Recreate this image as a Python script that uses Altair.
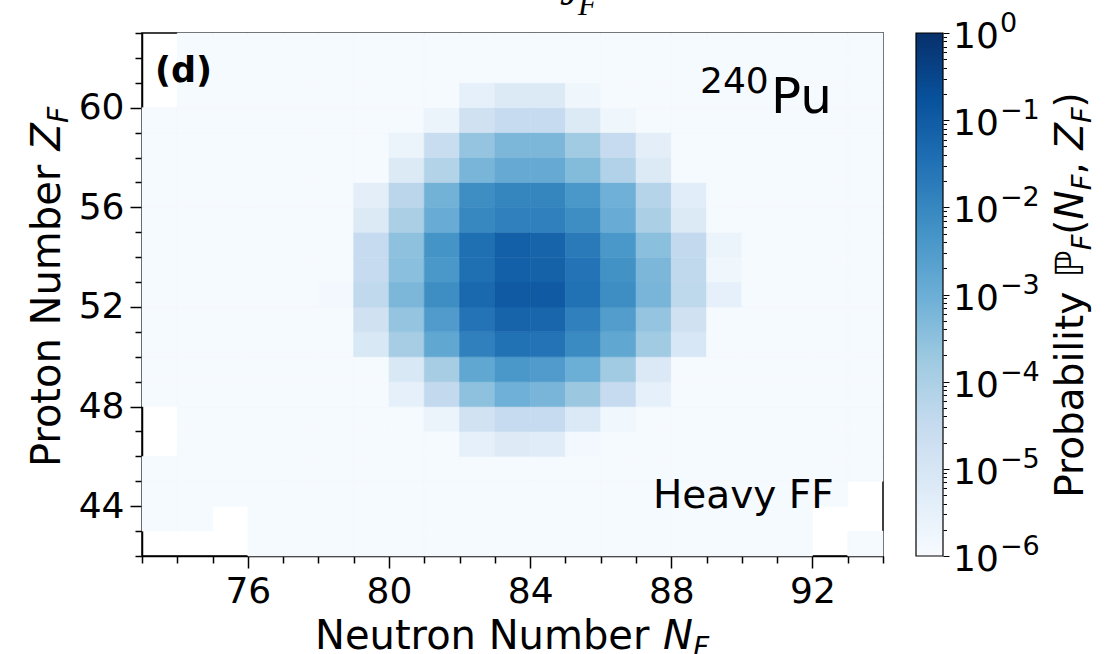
import altair as alt
import pandas as pd

# ---------------- values ----------------
x_tick_values = list(range(73, 95))          # neutron number ticks (every integer)
y_tick_values = list(range(42, 64))          # proton number ticks (every integer)
N_domain = [73, 94]
Z_domain = [42, 63]

# log10 of probability, one list per proton row (Z), starting at row_first_N
row_Z = [60, 59, 58, 57, 56, 55, 54, 53, 52, 51, 50, 49, 48, 47, 46]
row_first_N = [82, 81, 80, 80, 79, 79, 79, 79, 78, 79, 79, 80, 80, 81, 82]
row_logp = [
    [-5.5, -5.2, -5.2, -5.75],
    [-5.65, -4.8, -4.5, -4.5, -5.2, -5.75],
    [-5.65, -4.6, -3.6, -3.25, -3.25, -3.8, -4.5, -5.4],
    [-5.2, -4.15, -3.2, -2.9, -2.9, -3.35, -4.1, -5.2],
    [-5.4, -4.3, -3.1, -2.15, -1.95, -1.95, -2.4, -3.05, -4.2, -5.35],
    [-5.2, -4.0, -2.95, -2.0, -1.85, -1.85, -2.15, -2.95, -4.0, -5.2],
    [-4.5, -3.5, -2.3, -1.45, -1.1, -1.2, -1.7, -2.4, -3.45, -4.45, -5.65],
    [-4.5, -3.45, -2.4, -1.45, -1.1, -1.15, -1.55, -2.25, -3.25, -4.4, -5.75],
    [-5.85, -4.4, -3.25, -2.15, -1.3, -0.95, -0.95, -1.5, -2.15, -3.2, -4.35, -5.5],
    [-4.8, -3.6, -2.5, -1.55, -1.2, -1.25, -1.85, -2.55, -3.6, -4.8],
    [-5.1, -3.9, -2.8, -1.85, -1.5, -1.55, -2.1, -2.8, -3.8, -5.05],
    [-5.1, -3.9, -2.8, -2.4, -2.5, -3.0, -3.8, -5.15],
    [-5.5, -4.45, -3.5, -3.05, -3.2, -3.7, -4.5, -5.5],
    [-5.65, -4.85, -4.5, -4.5, -5.15, -5.8],
    [-5.5, -5.25, -5.3, -5.85],
]
background_logp = -5.95
# cells left empty (white) in the picture
missing_N = [73, 73, 73, 73, 73, 73, 74, 75, 75, 92, 92, 93, 93]
missing_Z = [62, 61, 60, 47, 46, 42, 42, 42, 43, 42, 43, 43, 44]

# colour bar
cbar_exponents = [0, -1, -2, -3, -4, -5, -6]
cbar_mantissas = [1, 2, 3, 4, 5, 6, 7, 8, 9]
blues = ["#f7fbff", "#deebf7", "#c6dbef", "#9ecae1", "#6baed6",
         "#4292c6", "#2171b5", "#08519c", "#08306b"]

# ---------------- table ----------------
cells = {}
for n in range(N_domain[0], N_domain[1]):
    for z in range(Z_domain[0], Z_domain[1]):
        cells[(n, z)] = background_logp
for z, n0, vals in zip(row_Z, row_first_N, row_logp):
    for i, v in enumerate(vals):
        cells[(n0 + i, z)] = v
for n, z in zip(missing_N, missing_Z):
    cells.pop((n, z), None)
df = pd.DataFrame([{"N": n, "Z": z, "logp": v} for (n, z), v in cells.items()])

cbar_ticks = [m * 10.0 ** e for e in range(-6, 0) for m in cbar_mantissas] + [1.0]

# ---------------- layout constants (pixels, relative to plot origin) ----------------
W_PLOT, H_PLOT = 741, 523
PAD = {"left": 142, "top": 33, "right": 1110 - 142 - 741, "bottom": 654 - 33 - 523}
FONT = "DejaVu Sans"
TICK_FS = 36
TITLE_FS = 40

heat_scale = alt.Scale(domain=[-6 + 0.75 * k for k in range(9)], range=blues,
                       interpolate="rgb", clamp=True)
major_test = "datum.value % 4 == 0"

x_axis = alt.Axis(values=x_tick_values, title=None, orient="bottom",
                  labelExpr=f"{major_test} ? datum.label : ''",
                  tickSize={"condition": {"test": major_test, "value": 12}, "value": 7},
                  tickWidth=1.5, tickColor="black", domainColor="black", domainWidth=1.5,
                  labelFont=FONT, labelFontSize=TICK_FS, labelColor="black",
                  labelPadding=6, labelFlush=False, labelOverlap=False, grid=False)
y_axis = alt.Axis(values=y_tick_values, title=None, orient="left",
                  labelExpr=f"{major_test} ? datum.label : ''",
                  tickSize={"condition": {"test": major_test, "value": 12}, "value": 7},
                  tickWidth=1.5, tickColor="black", domainColor="black", domainWidth=1.5,
                  labelFont=FONT, labelFontSize=TICK_FS, labelColor="black",
                  labelPadding=6, labelFlush=False, labelOverlap=False, grid=False)

heat = alt.Chart(df).transform_calculate(
    N2="datum.N + 1", Z2="datum.Z + 1"
).mark_rect(strokeWidth=0.6).encode(
    x=alt.X("N:Q", scale=alt.Scale(domain=N_domain, nice=False, zero=False), axis=x_axis),
    x2="N2:Q",
    y=alt.Y("Z:Q", scale=alt.Scale(domain=Z_domain, nice=False, zero=False), axis=y_axis),
    y2="Z2:Q",
    color=alt.Color("logp:Q", scale=heat_scale, legend=None),
    stroke=alt.Stroke("logp:Q", scale=heat_scale, legend=None),
)

# ---------------- colour bar ----------------
CB_X0, CB_X1 = 774, 801
cb_scale = alt.Scale(type="log", domain=[1e-6, 1.0], nice=False)
cb_major = "abs(log(datum.value)/LN10 - round(log(datum.value)/LN10)) < 0.001"
cb_axis = alt.Axis(values=cbar_ticks, orient="right", offset=CB_X1 - W_PLOT, title=None,
                   labels=False, domain=False, grid=False,
                   tickSize={"condition": {"test": cb_major, "value": 6}, "value": 3.5},
                   tickWidth=1, tickColor="black")
gradient = {"gradient": "linear", "x1": 0, "y1": 1, "x2": 0, "y2": 0,
            "stops": [{"offset": k / 8, "color": c} for k, c in enumerate(blues)]}
cbar = alt.Chart(pd.DataFrame({"lo": [1e-6], "hi": [1.0]})).mark_rect(
    color=gradient, stroke="black", strokeWidth=1.2
).encode(
    x=alt.value(CB_X0), x2=alt.value(CB_X1),
    y=alt.Y("lo:Q", scale=cb_scale, axis=cb_axis), y2="hi:Q",
)

cb_lab = alt.Chart(pd.DataFrame({"e": cbar_exponents})).transform_calculate(
    val="pow(10, datum.e)",
    sup="datum.e == 0 ? '0' : '\u2212' + abs(datum.e)",
)
cb_ten = cb_lab.mark_text(text="10", align="left", baseline="alphabetic", font=FONT,
                          fontSize=TICK_FS, color="black", dy=15).encode(
    x=alt.value(811), y=alt.Y("val:Q", scale=cb_scale, axis=None))
cb_sup = cb_lab.mark_text(align="left", baseline="alphabetic", font=FONT,
                          fontSize=27, color="black", dy=-1).encode(
    x=alt.value(858), y=alt.Y("val:Q", scale=cb_scale, axis=None), text="sup:N")

# ---------------- text helpers ----------------
EM = {" ": 0.318, "(": 0.390, ")": 0.390, ",": 0.318, "F": 0.575, "N": 0.748, "P": 0.603,
      "Z": 0.685, "a": 0.613, "b": 0.635, "e": 0.615, "i": 0.278, "l": 0.278, "m": 0.974,
      "n": 0.634, "o": 0.612, "r": 0.411, "t": 0.392, "u": 0.634, "y": 0.592, "\u2119": 0.70}


def tw(s, size):
    return sum(EM.get(c, 0.6) for c in s) * size


def text_layer(txt, x, y, size, italic=False, bold=False, angle=0, font=FONT):
    kw = dict(align="left", baseline="alphabetic", font=font, fontSize=size,
              color="black", angle=angle)
    if italic:
        kw["fontStyle"] = "italic"
    if bold:
        kw["fontWeight"] = "bold"
    return alt.Chart(alt.Data(values=[{"t": txt}])).mark_text(**kw).encode(
        x=alt.value(x), y=alt.value(y), text="t:N")


def seg_title(pieces, center, base, angle):
    total = sum(tw(t, s) for t, s, _, _ in pieces)
    cur = 0
    out = []
    for t, s, ital, shift in pieces:
        if angle == 0:
            out.append(text_layer(t, center - total / 2 + cur, base + shift, s, ital))
        else:
            out.append(text_layer(t, base + shift, center + total / 2 - cur, s, ital, angle=270))
        cur += tw(t, s)
    return out


SUB = 0.7
xt = seg_title([("Neutron Number ", TITLE_FS, False, 0), ("N", TITLE_FS, True, 0),
                ("F", TITLE_FS * SUB, True, 8)], 370, 616, 0)
yt = seg_title([("Proton Number ", TITLE_FS, False, 0), ("Z", TITLE_FS, True, 0),
                ("F", TITLE_FS * SUB, True, 8)], 254, -82, 270)
CBT = 39
ct = seg_title([("Probability ", CBT, False, 0), ("\u2119", CBT, False, 0),
                ("F", CBT * SUB, True, 8), ("(", CBT, False, 0), ("N", CBT, True, 0),
                ("F", CBT * SUB, True, 8), (", ", CBT, False, 0), ("Z", CBT, True, 0),
                ("F", CBT * SUB, True, 8), (")", CBT, False, 0)], 262, 941, 270)

notes = [
    text_layer("(d)", 13, 49, 35, bold=True),
    text_layer("240", 558, 60, 36),
    text_layer("Pu", 629, 80, 50),
    text_layer("Heavy FF", 511, 475, 39),
    text_layer("J", 418, -28, 44, italic=True, font="Liberation Serif"),
    text_layer("F", 436, -18, 31, italic=True, font="Liberation Serif"),
]

chart = alt.layer(heat, cbar, cb_ten, cb_sup, *xt, *yt, *ct, *notes).resolve_scale(
    y="independent"
).properties(
    width=W_PLOT, height=H_PLOT, padding=PAD,
    autosize=alt.AutoSizeParams(type="none"), background="white",
).configure_view(stroke="black", strokeWidth=1.5)

chart.save("out.html", embed_options={"renderer": "svg", "actions": False})
